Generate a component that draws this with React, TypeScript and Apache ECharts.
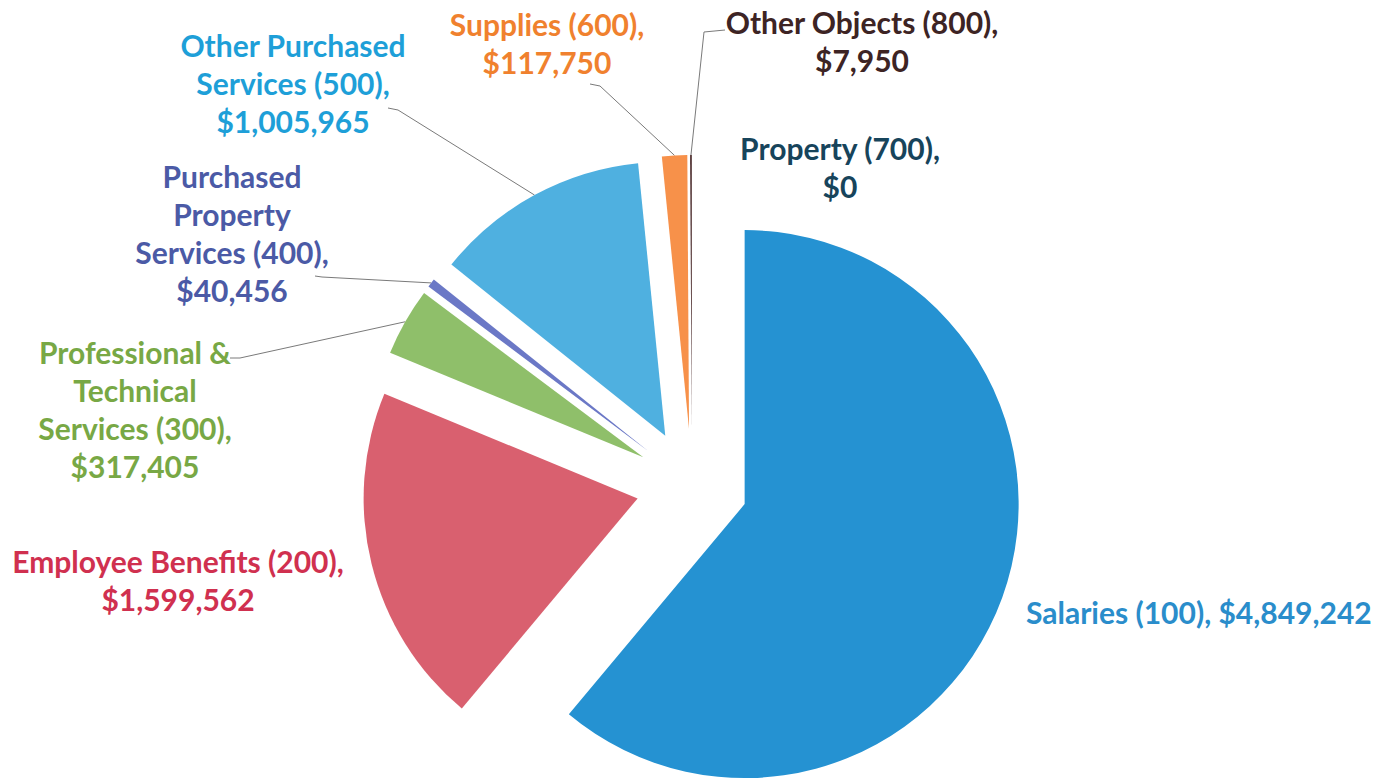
import React, { useEffect, useRef } from "react";
import * as echarts from "echarts";

const categories = [
  "Salaries (100)",
  "Employee Benefits (200)",
  "Professional & Technical Services (300)",
  "Purchased Property Services (400)",
  "Other Purchased Services (500)",
  "Supplies (600)",
  "Property (700)",
  "Other Objects (800)",
];
const values = [4849242, 1599562, 317405, 40456, 1005965, 117750, 0, 7950];
const labelNames = [
  "Salaries (100),",
  "Employee Benefits (200),",
  "Professional &\nTechnical\nServices (300),",
  "Purchased\nProperty\nServices (400),",
  "Other Purchased\nServices (500),",
  "Supplies (600),",
  "Property (700),",
  "Other Objects (800),",
];
const labelSeps = [" ", "\n", "\n", "\n", "\n", "\n", "\n", "\n"];
const sliceColors = ["#2592d2", "#d9606f", "#8fbf6a", "#6b78c6", "#4fb0e0", "#f7914a", "#1d4c63", "#4b2b2b"];
const textColors = ["#2a8dcb", "#d0304f", "#78a845", "#4b5aa6", "#1e9fd8", "#f0812e", "#17445b", "#3d2424"];

// label anchor positions [x, y, align]
const labelPos: [number, number, string][] = [
  [1026, 612, "left"],
  [178, 580, "center"],
  [135, 409, "center"],
  [232, 233, "center"],
  [293, 83, "center"],
  [547, 43, "center"],
  [840, 167, "center"],
  [862, 41, "center"],
];
// leader line tail points (elbow, end) or null
const leaderTail: ([number, number][] | null)[] = [
  null,
  null,
  [[240, 358], [230, 358]],
  [[322, 277], [315, 276]],
  [[398, 110], [388, 108]],
  [[600, 86], [590, 84]],
  null,
  [[704, 32], [725, 30]],
];

const CENTER = [692, 485];
const RADIUS = 274;
const EXPLODE = 56;

export default function App() {
  const ref = useRef<HTMLDivElement>(null);
  useEffect(() => {
    document.body.style.margin = "0";
    const chart = echarts.init(ref.current!, undefined, { renderer: "svg" });
    const total = values.reduce((a, b) => a + b, 0);
    let acc = 0;
    const series = categories.map((_, i) => {
      const start = (acc / total) * 360;
      acc += values[i];
      const end = (acc / total) * 360;
      const mid = (((start + end) / 2) * Math.PI) / 180;
      const cx = CENTER[0] + EXPLODE * Math.sin(mid);
      const cy = CENTER[1] - EXPLODE * Math.cos(mid);
      const data = categories.map((c, j) =>
        j === i
          ? {
              name: c,
              value: values[j],
              itemStyle: { color: sliceColors[j] },
              label: { show: true, color: textColors[j] },
              labelLine: { show: leaderTail[j] !== null },
            }
          : {
              name: c,
              value: values[j],
              itemStyle: { color: "rgba(0,0,0,0)" },
              label: { show: false },
              labelLine: { show: false },
            }
      );
      return {
        type: "pie",
        name: categories[i],
        center: [cx, cy],
        radius: RADIUS,
        startAngle: 90,
        clockwise: true,
        silent: true,
        avoidLabelOverlap: false,
        emphasis: { disabled: true },
        data,
        label: {
          position: "outside",
          fontFamily: "Lato",
          fontWeight: "bold",
          fontSize: 30,
          lineHeight: 38,
          formatter: (p: any) =>
            labelNames[p.dataIndex] + labelSeps[p.dataIndex] + "$" + values[p.dataIndex].toLocaleString("en-US"),
        },
        labelLine: {
          lineStyle: { color: "#7a7a7a", width: 1 },
        },
        labelLayout: (p: any) => {
          const pos = labelPos[p.dataIndex];
          const tail = leaderTail[p.dataIndex];
          const res: any = { x: pos[0], y: pos[1], align: pos[2], verticalAlign: "middle" };
          if (tail && p.labelLinePoints) {
            res.labelLinePoints = [p.labelLinePoints[0], tail[0], tail[1]];
          }
          return res;
        },
      };
    });
    chart.setOption({
      animation: false,
      backgroundColor: "#ffffff",
      series,
    });
    return () => chart.dispose();
  }, []);
  return <div ref={ref} style={{ position: "fixed", left: 0, top: 0, width: 1376, height: 779 }} />;
}
